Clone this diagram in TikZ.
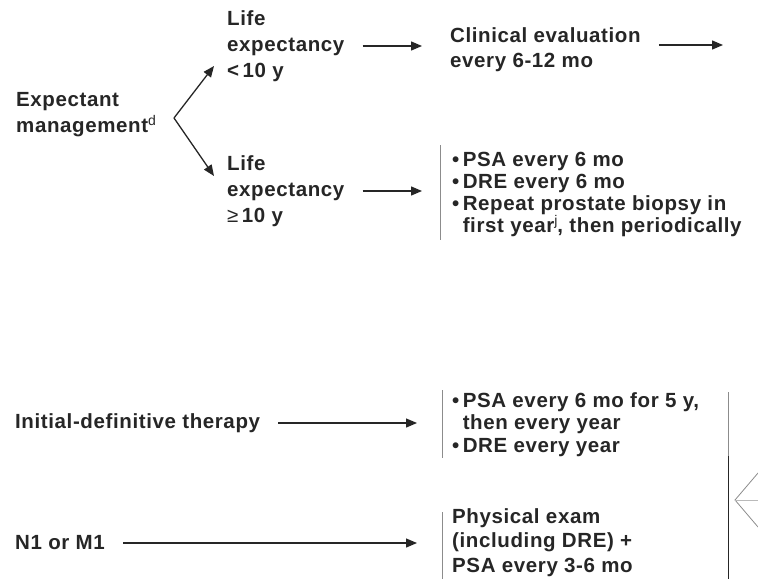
\documentclass[tikz,border=0pt]{standalone}
\usepackage{fontspec}
\setmainfont{Liberation Sans}[LetterSpace=3]
\usetikzlibrary{arrows.meta}
\definecolor{ink}{HTML}{262626}
\definecolor{rule}{HTML}{8C8C8C}
\newcommand{\supnote}[1]{\raisebox{7pt}{\fontsize{14}{14}\selectfont\mdseries #1}}
\begin{document}
\begin{tikzpicture}[x=1pt,y=-1pt,
  txt/.style={anchor=west,inner sep=0pt,align=left,text=ink,
    font=\fontsize{20.5}{26}\selectfont\bfseries},
  arr/.style={draw=ink,line width=1.3pt,-{Triangle[length=11pt,width=9pt]}},
  bar/.style={draw=rule,line width=1pt}]
\useasboundingbox (0,0) rectangle (758,579);
% expectant management branch
\node[txt] (expm) at (16,115) {Expectant\\management\supnote{d}};
\coordinate (fork) at (174,118);
\node[txt] (short) at (227,46) {Life\\expectancy\\{<}\,10 y};
\node[txt] (long) at (227,191) {Life\\expectancy\\{\mdseries ≥}\,10 y};
\draw[arr] (fork) -- (214,66);
\draw[arr] (fork) -- (214,176);
\node[txt,font=\fontsize{20.5}{25}\selectfont\bfseries] (clin) at (450,50) {Clinical evaluation\\every 6-12 mo};
\coordinate (next) at (723,45);
\draw[arr] ([xshift=18pt]short.east) -- ([xshift=-28pt]short.east -| clin.west);
\draw[arr] ([xshift=18pt]clin.east |- next) -- (next);
\node[txt,font=\fontsize{20.5}{21.7}\selectfont\bfseries] (fol1) at (452,194.5)
  {•\,PSA every 6 mo\\•\,DRE every 6 mo\\•\,Repeat prostate biopsy in\\
   \phantom{•\,}first year\supnote{j}, then periodically};
\draw[arr] ([xshift=18pt]long.east) -- ([xshift=-30pt]long.east -| fol1.west);
\draw[bar] (440,145) -- (440,240);
% definitive therapy and N1/M1
\node[txt] (init) at (15,423) {Initial-definitive therapy};
\node[txt,font=\fontsize{20.5}{22.5}\selectfont\bfseries] (fol2) at (452,424.5)
  {•\,PSA every 6 mo for 5 y,\\\phantom{•\,}then every year\\•\,DRE every year};
\draw[arr] ([xshift=18pt]init.east) -- ([xshift=-35pt]init.east -| fol2.west);
\draw[bar] (442,390) -- (442,458);
\node[txt] (nm) at (15,543) {N1 or M1};
\node[txt,font=\fontsize{20.5}{24.5}\selectfont\bfseries] (phys) at (452,542.5)
  {Physical exam\\(including DRE) +\\PSA every 3-6 mo};
\draw[arr] ([xshift=18pt]nm.east) -- ([xshift=-35pt]nm.east -| phys.west);
\draw[bar] (442,512) -- (442,579);
% bracket on the right
\draw[bar] (728,392) -- (728,456);
\draw[draw=ink,line width=1pt] (728,456) -- (728,579);
\draw[draw=rule,line width=0.8pt] (758,473) -- (735,500) -- (758,527);
\draw[draw=rule!60,line width=0.8pt] (735,500) -- (758,500);
\end{tikzpicture}
\end{document}
